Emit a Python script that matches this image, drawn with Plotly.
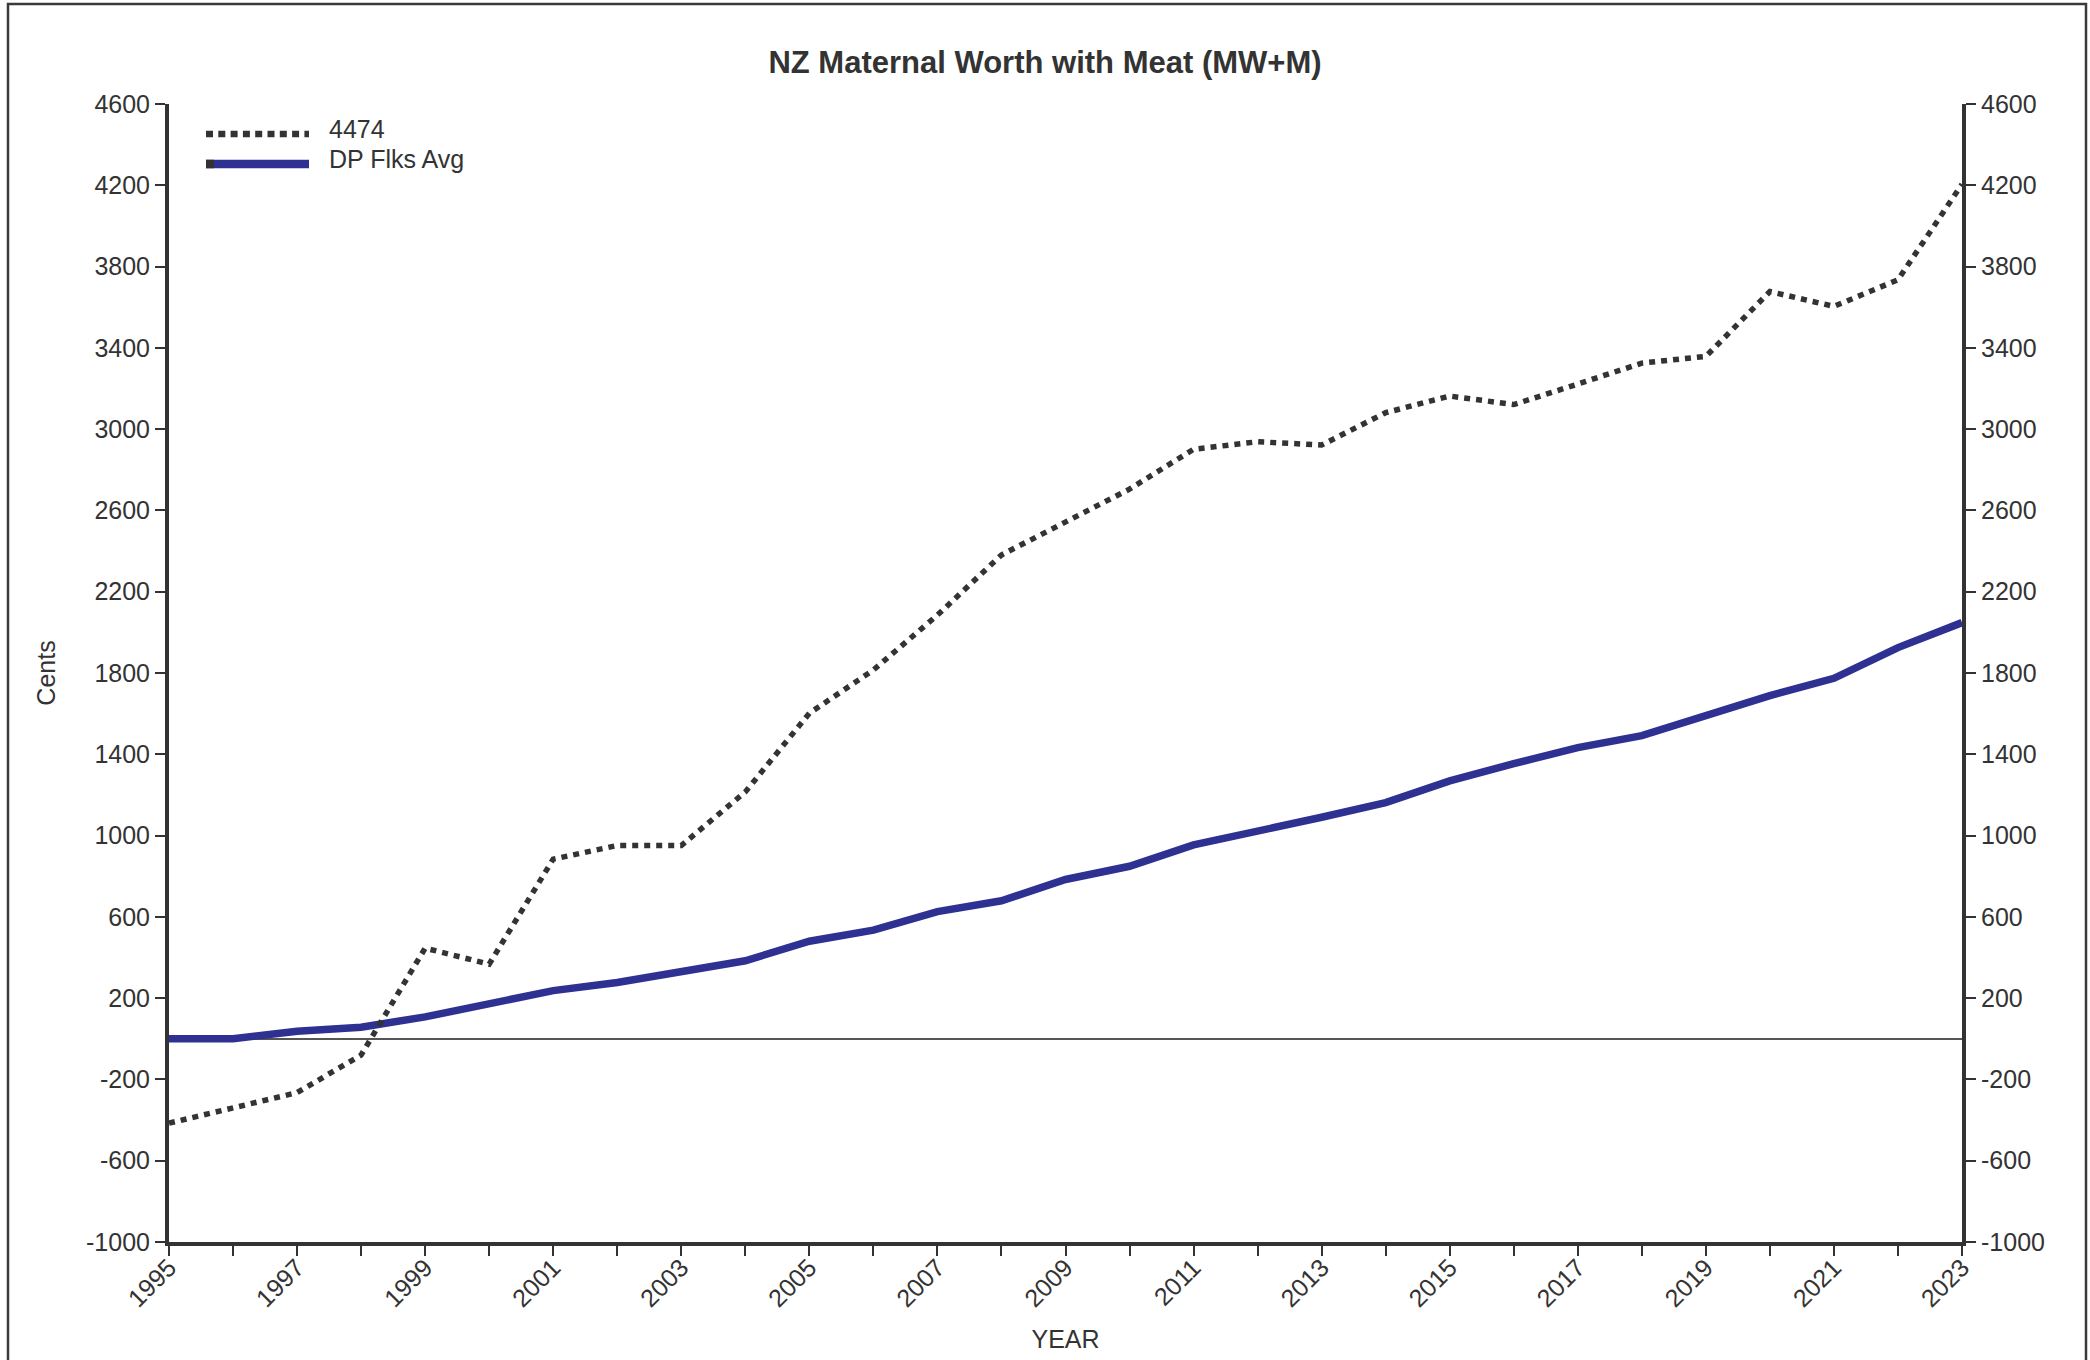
import plotly.graph_objects as go

# ---------------- data ----------------
years = list(range(1995, 2024))
sire_4474 = [-415, -340, -265, -80, 446, 367, 884, 951, 951, 1215,
             1602, 1815, 2085, 2381, 2545, 2705, 2901, 2938, 2922, 3081,
             3163, 3121, 3222, 3325, 3358, 3677, 3604, 3735, 4205]
dp_flks_avg = [0, 0, 37, 57, 108, 168, 237, 277, 326, 384,
               480, 535, 626, 679, 784, 849, 954, 1020, 1090, 1162,
               1269, 1354, 1433, 1492, 1590, 1689, 1774, 1925, 2048]
series_names = ["4474", "DP Flks Avg"]
y_tick_vals = list(range(-1000, 4601, 400))
y_tick_labels = [str(v) for v in y_tick_vals]  # plain hyphen minus
x_tick_labels = [str(y) if (y - 1995) % 2 == 0 else "" for y in years]

# ---------------- layout geometry ----------------
W, H = 2090, 1360
ML, MR, MT, MB = 169, 128, 104, 118
PW = W - ML - MR
PH = H - MT - MB

def px_x(px):
    return (px - ML) / PW

def px_y(py):
    return (H - MB - py) / PH

FONT = "Liberation Sans, Arial, sans-serif"
TXT = "#333333"
AX = "#333333"
BLUE = "#2E3192"
DOT = "#333333"

fig = go.Figure()
fig.add_trace(go.Scatter(x=years, y=dp_flks_avg, mode="lines", name=series_names[1],
                         line=dict(color=BLUE, width=7.5), showlegend=False))
fig.add_trace(go.Scatter(x=years, y=sire_4474, mode="lines", name=series_names[0],
                         line=dict(color=DOT, width=5.5, dash="6px,6px"), showlegend=False))

axis_common = dict(
    showline=True, linecolor=AX, linewidth=4,
    ticks="outside", ticklen=10, tickwidth=2, tickcolor=AX,
    tickfont=dict(family=FONT, size=25, color=TXT),
    showgrid=False, automargin=False,
)

fig.update_layout(
    width=W, height=H,
    margin=dict(l=ML, r=MR, t=MT, b=MB),
    paper_bgcolor="white", plot_bgcolor="white",
    font=dict(family=FONT, color=TXT),
    title=dict(text="<b>NZ Maternal Worth with Meat (MW+M)</b>",
               font=dict(family=FONT, size=31, color=TXT),
               x=0.5, xref="container", xanchor="center",
               y=1 - 62 / H, yref="container", yanchor="middle"),
    xaxis=dict(range=[1995, 2023], tickmode="array", tickvals=years,
               ticktext=x_tick_labels, tickangle=-45, ticklabelstandoff=-13,
               title=dict(text="YEAR", font=dict(family=FONT, size=25, color=TXT), standoff=20),
               zeroline=False, **axis_common),
    yaxis=dict(range=[-1000, 4600], tickmode="array", tickvals=y_tick_vals,
               ticktext=y_tick_labels,
               title=dict(text="Cents", font=dict(family=FONT, size=25, color=TXT), standoff=24),
               zeroline=True, zerolinecolor="#555555", zerolinewidth=1.5,
               **axis_common),
    yaxis2=dict(range=[-1000, 4600], tickmode="array", tickvals=y_tick_vals,
                ticktext=y_tick_labels,
                overlaying="y", side="right", anchor="x",
                zeroline=False, **axis_common),
    showlegend=False,
)

# invisible helper so the right axis is rendered with the same scale
fig.add_trace(go.Scatter(x=[years[0]], y=[dp_flks_avg[0]], yaxis="y2", mode="lines",
                         line=dict(width=0), hoverinfo="skip", showlegend=False))

# ---------------- custom legend (long line samples) ----------------
legend_items = [
    dict(name=series_names[0], color=DOT, width=6.5, dash="7px,5.3px", ypx=134, typx=129),
    dict(name=series_names[1], color=BLUE, width=8.5, dash="solid", ypx=164, typx=159),
]
shapes = []
annotations = []
for it in legend_items:
    shapes.append(dict(type="line", xref="paper", yref="paper",
                       x0=px_x(206), x1=px_x(309), y0=px_y(it["ypx"]), y1=px_y(it["ypx"]),
                       line=dict(color=it["color"], width=it["width"], dash=it["dash"])))
    annotations.append(dict(text=it["name"], xref="paper", yref="paper",
                            x=px_x(327), y=px_y(it["typx"]), xanchor="left", yanchor="middle",
                            showarrow=False, font=dict(family=FONT, size=25, color=TXT)))
shapes.append(dict(type="line", xref="paper", yref="paper",
                   x0=px_x(206), x1=px_x(214), y0=px_y(164), y1=px_y(164),
                   line=dict(color=DOT, width=8.5)))

# outer frame
shapes.append(dict(type="rect", xref="paper", yref="paper",
                   x0=px_x(8), x1=px_x(2086), y0=px_y(1372), y1=px_y(4),
                   line=dict(color="#3a3a3a", width=2.5), fillcolor="rgba(0,0,0,0)", layer="above"))

fig.update_layout(shapes=shapes, annotations=annotations)

fig.write_html("out.html", config={"displayModeBar": False},
               post_script="document.body.style.margin='0';")
